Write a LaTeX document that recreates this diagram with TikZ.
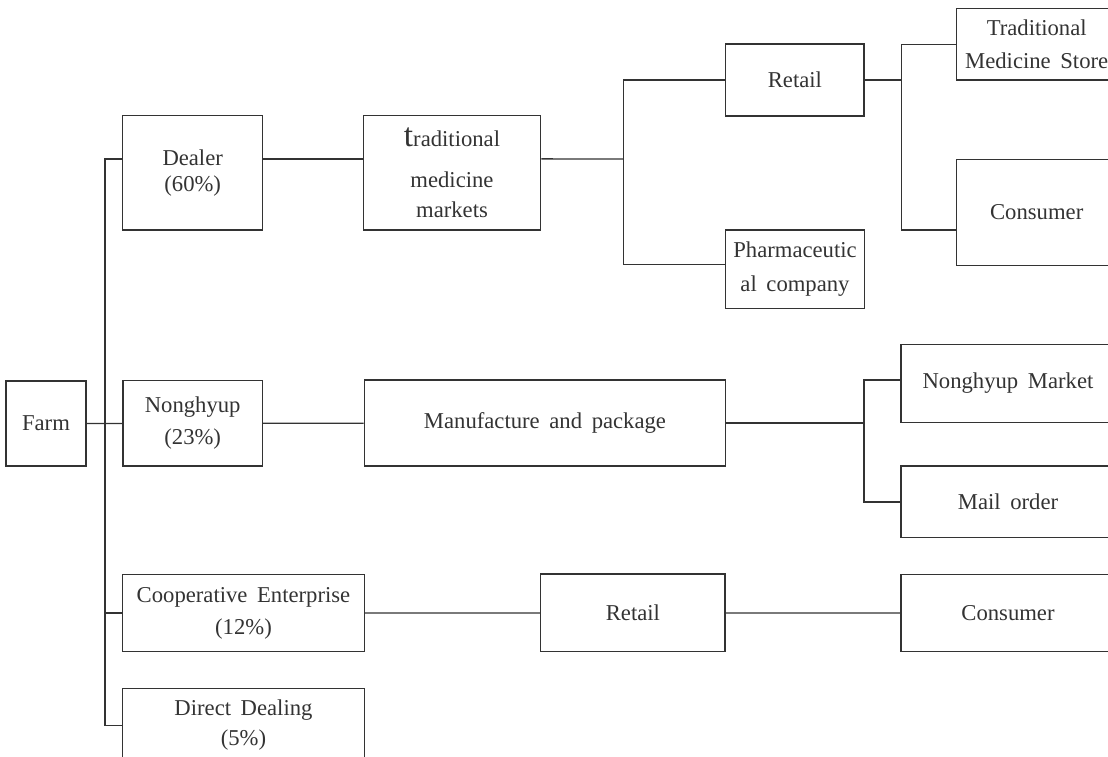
\documentclass[tikz,border=0pt]{standalone}
\usepackage{fontspec}
\setmainfont{Liberation Serif}[WordSpace=1.7]
\definecolor{inkgray}{HTML}{333333}
\tikzset{every picture/.style={line width=1pt}}
\tikzset{flowbox/.style={draw=inkgray, text=inkgray, rectangle, inner sep=0pt, align=center,
    font=\fontsize{17}{24}\selectfont}}

\begin{document}
\begin{tikzpicture}[x=0.75pt,y=0.75pt,yscale=-1,xscale=1]
    %set diagram left start at 0, and has height of 757
    \path[use as bounding box, clip] (0,0) rectangle (1108,757);
    
    %Shape: Rectangle [farm] 
    \node[flowbox, minimum width=60pt, minimum height=63.8pt] (farm) at (46,423.5) {Farm};
    %Shape: Rectangle [first level] 
    \node[flowbox, minimum width=105pt, minimum height=85.7pt, font=\fontsize{17}{19}\selectfont] (dealer) at (192.7,172.9) {Dealer\\(60\%)};
    \node[flowbox, minimum width=104.5pt, minimum height=64pt] (nong) at (192.7,423.4) {Nonghyup\\(23\%)};
    \node[flowbox, minimum width=181.2pt, minimum height=58pt] (coop) at (243.5,613) {Cooperative Enterprise\\(12\%)};
    \node[flowbox, minimum width=181.2pt, minimum height=55.5pt, font=\fontsize{17}{22.5}\selectfont] (direct) at (243.5,725.3) {Direct Dealing\\(5\%)};
    
    %Shape: Rectangle [second level] 
    \node[flowbox, minimum width=133pt, minimum height=85.7pt, font=\fontsize{17}{22.5}\selectfont] (trad) at (452,172.9) {{\fontsize{25}{25}\selectfont t}raditional\\[8pt]medicine\\markets};
    \node[flowbox, minimum width=271pt, minimum height=64.5pt] (manu) at (545,423) {Manufacture and package};
    \node[flowbox, minimum width=138.2pt, minimum height=58.3pt] (retailb) at (632.9,612.9) {Retail};
    
    %Shape: Rectangle [third level] 
    \node[flowbox, minimum width=103.7pt, minimum height=54pt] (retaila) at (794.9,80) {Retail};
    \node[flowbox, minimum width=104pt, minimum height=58.7pt, font=\fontsize{17}{26}\selectfont] (pharma) at (795,269.2) {Pharmaceutic\\al company};
    
    %Shape: Rectangle [last level, cut at the right edge] 
    \node[flowbox, minimum width=120pt, minimum height=53.8pt, font=\fontsize{17}{25}\selectfont] (store) at (1036.7,44.2) {Traditional\\Medicine Store};
    \node[flowbox, minimum width=120pt, minimum height=79.8pt] (consa) at (1036.7,212.5) {Consumer};
    \node[flowbox, minimum width=160.5pt, minimum height=58.8pt] (market) at (1008,383.5) {Nonghyup Market};
    \node[flowbox, minimum width=160.5pt, minimum height=53.8pt] (mail) at (1008,501.9) {Mail order};
    \node[flowbox, minimum width=160.5pt, minimum height=58pt] (consb) at (1008,613) {Consumer};
    
    %Coordinates: branch points
    \coordinate (spine) at (105,423);
    \coordinate (tradfork) at (623.3,159);
    \coordinate (retailfork) at (901.7,80);
    \coordinate (manufork) at (864,423);
    
    %Straight Lines: farm to first level
    \draw[inkgray] (farm) -- (nong);
    \draw[inkgray] ([yshift=-10.5pt]dealer.west) -| (spine) |- (direct.west);
    \draw[inkgray] (coop.west) -- (coop.west -| spine);
    %Straight Lines: dealer route
    \draw[inkgray] ([yshift=-10.5pt]dealer.east) -- ([yshift=-10.5pt]trad.west);
    \draw[inkgray] ([yshift=-10.5pt]trad.east) -- (tradfork);
    \draw[inkgray] (retaila.west) -| (tradfork);
    \draw[inkgray] ([yshift=-3.5pt]pharma.west) -| (tradfork);
    \draw[inkgray] (retaila.east) -- (retailfork);
    \draw[inkgray] (store.west) -| (retailfork);
    \draw[inkgray] ([yshift=13pt]consa.west) -| (retailfork);
    %Straight Lines: nonghyup route
    \draw[inkgray] (nong) -- (manu);
    \draw[inkgray] (manu.east) -- (manufork);
    \draw[inkgray] ([yshift=-2.6pt]market.west) -| (manufork);
    \draw[inkgray] (mail.west) -| (manufork);
    %Straight Lines: cooperative route
    \draw[inkgray] (coop) -- (retailb) -- (consb);
    
\end{tikzpicture}
\end{document}
